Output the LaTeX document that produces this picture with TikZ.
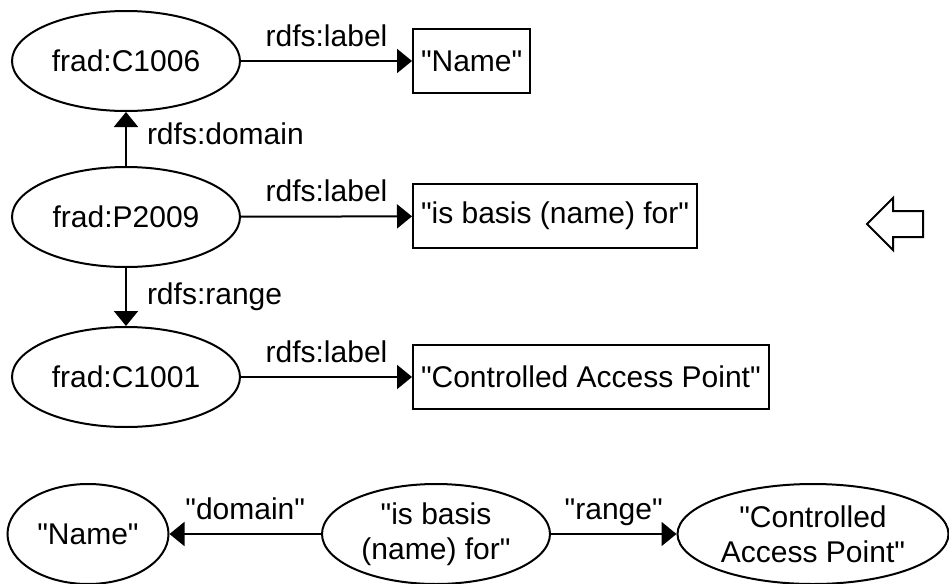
\documentclass[tikz,border=0pt]{standalone}
\usepackage{fontspec}
\setmainfont{Liberation Sans}[Ligatures=TeXOff]
\usepackage{tikz}
\usetikzlibrary{arrows.meta, shapes.geometric}

\begin{document}
\begin{tikzpicture}[x=0.5pt, y=-0.5pt, line width=1pt,
    >={Triangle[length=7.5pt, width=12pt]},
    every node/.style={font=\fontsize{15}{17.5}\selectfont},
    res/.style={draw, ellipse, inner sep=0pt, minimum width=114pt, minimum height=50pt, align=center},
    lit/.style={draw, rectangle, anchor=west, inner xsep=4pt, inner ysep=0pt, minimum height=32pt},
    tag/.style={text depth=0pt, inner sep=7pt}]
    \useasboundingbox (0, 0) rectangle (949, 584);

    % RDF triples
    \node[res] (C1006) at (126, 61){frad:C1006};
    \node[res] (P2009) at (126, 217){frad:P2009};
    \node[res] (C1001) at (126, 377){frad:C1001};
    \node[lit] (lName) at (412, 61){"Name"};
    \node[lit] (lBasis) at (412, 216){"is basis (name) for"};
    \node[lit] (lCAP) at (412, 377){"Controlled Access Point"};
    \draw[->] (C1006)--(lName) node[tag, midway, above]{rdfs:label};
    \draw[->] (P2009)--(lBasis) node[tag, midway, above]{rdfs:label};
    \draw[->] (C1001)--(lCAP) node[tag, midway, above]{rdfs:label};
    \draw[->] (P2009)--(C1006) node[tag, pos=0.6, right, xshift=3pt]{rdfs:domain};
    \draw[->] (P2009)--(C1001) node[tag, pos=0.45, right, xshift=3pt]{rdfs:range};

    % hollow arrow
    \draw (867, 224)--(893, 198)--(893, 211)--(923, 211)--(923, 237)--(893, 237)--(893, 250)--cycle;

    % labels as a graph
    \node[res, minimum width=80.5pt] (gName) at (88, 534){"Name"};
    \node[res] (gBasis) at (436, 534){"is basis\\(name) for"};
    \node[res, minimum width=135.5pt] (gCAP) at (813, 534){"Controlled\\Access Point"};
    \draw[->] (gBasis)--(gName) node[tag, midway, above]{"domain"};
    \draw[->] (gBasis)--(gCAP) node[tag, midway, above]{"range"};
\end{tikzpicture}
\end{document}
